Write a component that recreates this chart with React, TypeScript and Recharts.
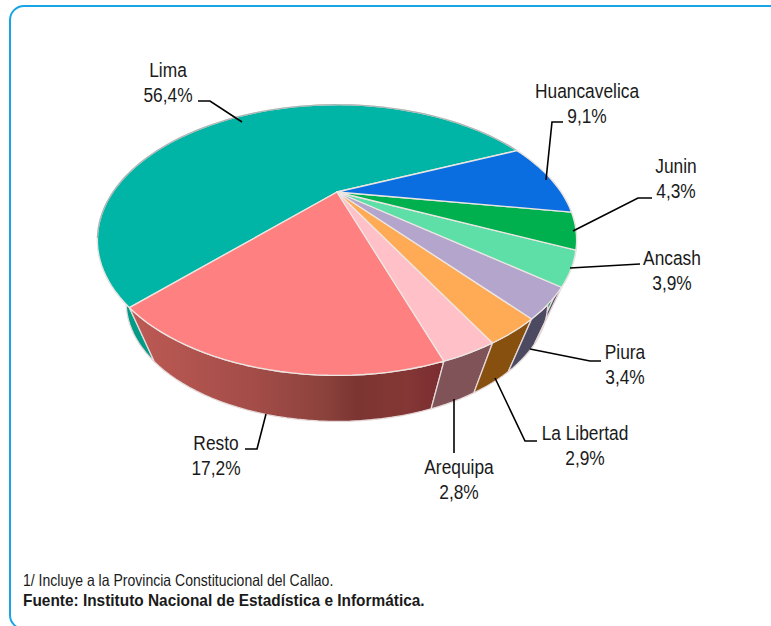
import React from 'react';
import { PieChart, Pie, Cell } from 'recharts';

const REGIONS = ['Lima', 'Resto', 'Arequipa', 'La Libertad', 'Piura', 'Ancash', 'Junin', 'Huancavelica'];
const SHARES = [56.4, 17.2, 2.8, 2.9, 3.4, 3.9, 4.3, 9.1];
const TOP_COLORS = ['#00b5a6', '#ff8080', '#ffc0c8', '#ffaa55', '#b3a5cc', '#5fdfa8', '#00b04f', '#0a6ee0'];
const WALL_COLORS = ['#009c88', 'url(#restoWall)', '#7f5358', '#87500f', '#4b4a60', '#565570', '#008a40', '#0855ad'];

const PIE_DATA = REGIONS.map((name, i) => ({ name, value: SHARES[i] }));

// label centre + leader elbow, per region
const LABEL_SPOTS = [
  { x: 168, y: 77, line: [[198, 101], [210, 101], [242, 122]] },
  { x: 216, y: 450, line: [[245, 449], [257, 449], [266, 414]] },
  { x: 459, y: 474, line: [[454, 399], [454, 453]] },
  { x: 585, y: 440, line: [[495, 378], [525, 441], [537, 441]] },
  { x: 625, y: 359, line: [[530, 349], [590, 361], [601, 361]] },
  { x: 672, y: 265, line: [[570, 268], [640, 264]] },
  { x: 676, y: 173, line: [[573, 231], [638, 198], [652, 198]] },
  { x: 587, y: 98, line: [[563, 122], [552, 122], [546, 180]] },
];

// the pie is seen in perspective, so a circle maps to an off-centre ellipse
const PERSPECTIVE = 0.355;
const FLATTEN = 0.528;
const WALL_DROP = 68;
const WALL_SCALE = 0.88;
const BACK_EDGE_END = 200;

const project = (cx: number, cy: number, r: number, deg: number) => {
  const t = (deg * Math.PI) / 180;
  const d = 1 + PERSPECTIVE * Math.sin(t);
  return [cx + (r * Math.cos(t)) / d, cy - (r * FLATTEN * Math.sin(t)) / d];
};

const arcPoints = (cx: number, cy: number, r: number, a: number, b: number) => {
  const pts: number[][] = [];
  const n = Math.max(2, Math.ceil(Math.abs(b - a) / 2));
  for (let i = 0; i <= n; i++) pts.push(project(cx, cy, r, a + ((b - a) * i) / n));
  return pts;
};

const toLine = (pts: number[][]) => 'M' + pts.map((p) => `${p[0].toFixed(2)},${p[1].toFixed(2)}`).join('L');

const TopSlice = (props: any) => {
  const { cx, cy, outerRadius, startAngle, endAngle, fill } = props;
  const pts = [[cx, cy], ...arcPoints(cx, cy, outerRadius, startAngle, endAngle)];
  return (
    <g>
      <path d={toLine(pts) + 'Z'} fill={fill} stroke="#ece6e2" strokeWidth={1.3} strokeLinejoin="round" />
      {startAngle < BACK_EDGE_END && (
        <path
          d={toLine(arcPoints(cx, cy, outerRadius, startAngle, Math.min(endAngle, BACK_EDGE_END)))}
          fill="none"
          stroke="#a9b5b3"
          strokeWidth={1.2}
        />
      )}
    </g>
  );
};

const WallSlice = (props: any) => {
  const { cx, cy, outerRadius, startAngle, endAngle, fill } = props;
  const upper = arcPoints(cx, cy, outerRadius, startAngle, endAngle);
  const lower = arcPoints(cx, cy + WALL_DROP, outerRadius * WALL_SCALE, startAngle, endAngle).reverse();
  return <path d={toLine([...upper, ...lower]) + 'Z'} fill={fill} stroke="#e6d8d8" strokeWidth={1.3} strokeLinejoin="round" />;
};

const SliceLabel = (props: any) => {
  const spot = LABEL_SPOTS[props.index];
  const pct = SHARES[props.index].toFixed(1).replace('.', ',') + '%';
  const font = { fontFamily: 'Liberation Sans, Arial, sans-serif', fontSize: 19.5, fill: '#1a1a1a' };
  return (
    <g>
      <text transform={`translate(${spot.x},${spot.y}) scale(0.89,1)`} textAnchor="middle" {...font}>
        {REGIONS[props.index]}
      </text>
      <text transform={`translate(${spot.x},${spot.y + 24.5}) scale(0.89,1)`} textAnchor="middle" {...font}>
        {pct}
      </text>
    </g>
  );
};

const LeaderLine = (props: any) => (
  <polyline
    points={LABEL_SPOTS[props.index].line.map((p) => p.join(',')).join(' ')}
    fill="none"
    stroke="#000"
    strokeWidth={1.6}
  />
);

const footNote = {
  position: 'absolute' as const,
  left: 23,
  fontFamily: 'Liberation Sans, Arial, sans-serif',
  fontSize: 16.5,
  lineHeight: '19px',
  color: '#1a1a1a',
  whiteSpace: 'nowrap' as const,
  transformOrigin: 'left top',
};

export default function App() {
  return (
    <div style={{ position: 'absolute', left: 0, top: 0, width: 771, height: 626, overflow: 'hidden', background: '#fff' }}>
      <div
        style={{
          position: 'absolute',
          left: 8.5,
          top: 5,
          width: 820,
          height: 625,
          border: '2px solid #18a5e6',
          borderRadius: 15,
          boxSizing: 'border-box',
        }}
      />
      <div style={{ position: 'absolute', left: 0, top: 0 }}>
        <PieChart width={771} height={626} margin={{ top: 0, right: 0, bottom: 0, left: 0 }}>
          <defs>
            <linearGradient id="restoWall" x1="0" y1="0" x2="1" y2="0">
              <stop offset="0%" stopColor="#bd5a55" />
              <stop offset="40%" stopColor="#a34c48" />
              <stop offset="62%" stopColor="#8c423c" />
              <stop offset="72%" stopColor="#7c3532" />
              <stop offset="88%" stopColor="#843735" />
              <stop offset="100%" stopColor="#7a2c30" />
            </linearGradient>
          </defs>
          <Pie
            data={PIE_DATA}
            dataKey="value"
            cx={337}
            cy={192}
            outerRadius={224}
            startAngle={23.5}
            endAngle={383.5}
            shape={WallSlice}
            label={false}
            labelLine={false}
            isAnimationActive={false}
          >
            {WALL_COLORS.map((c) => (
              <Cell key={c} fill={c} />
            ))}
          </Pie>
          <Pie
            data={PIE_DATA}
            dataKey="value"
            cx={337}
            cy={192}
            outerRadius={224}
            startAngle={23.5}
            endAngle={383.5}
            shape={TopSlice}
            label={SliceLabel}
            labelLine={LeaderLine}
            isAnimationActive={false}
          >
            {TOP_COLORS.map((c) => (
              <Cell key={c} fill={c} />
            ))}
          </Pie>
        </PieChart>
      </div>
      <div style={{ ...footNote, top: 571, transform: 'scaleX(0.85)' }}>
        1/ Incluye a la Provincia Constitucional del Callao.
      </div>
      <div style={{ ...footNote, top: 591, fontWeight: 700, transform: 'scaleX(0.934)' }}>
        Fuente: Instituto Nacional de Estadística e Informática.
      </div>
    </div>
  );
}
